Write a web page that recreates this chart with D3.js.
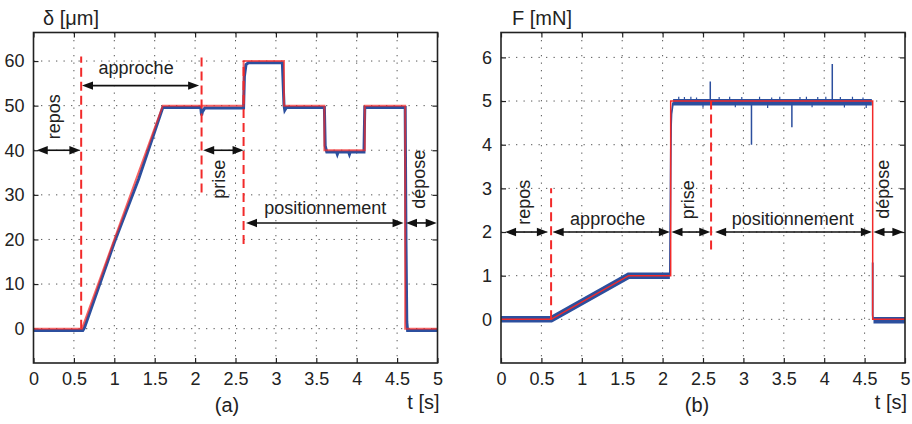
<!DOCTYPE html>
<html>
<head>
<meta charset="utf-8">
<script src="https://cdn.jsdelivr.net/npm/d3@7"></script>
<style>
  html, body { margin: 0; padding: 0; background: #fff; }
  svg { display: block; font-family: "Liberation Sans", Arial, Helvetica, sans-serif; }
</style>
</head>
<body>
<svg id="chart" width="912" height="424"></svg>
<script>
// ---------- DATA ----------
// x axis (shared)
const xTicks = [0, 0.5, 1, 1.5, 2, 2.5, 3, 3.5, 4, 4.5, 5];
const xTickLabels = ["0", "0.5", "1", "1.5", "2", "2.5", "3", "3.5", "4", "4.5", "5"];

// Panel (a): displacement δ [µm]
const yTicksA = [0, 10, 20, 30, 40, 50, 60];
const tRefA = [0, 0.6, 1.6, 2.6, 2.6, 3.1, 3.1, 3.6, 3.6, 4.1, 4.1, 4.6, 4.6, 5];
const dRefA = [0, 0, 50, 50, 60, 60, 50, 50, 40, 40, 50, 50, 0, 0];
const tMesA = [0, 0.61, 0.63, 1.0, 1.3, 1.6, 1.65, 2.07, 2.08, 2.09, 2.12, 2.6, 2.61, 2.63, 2.66, 3.08, 3.1, 3.11, 3.13, 3.6, 3.61, 3.63, 3.75, 3.76, 3.77, 3.9, 3.91, 3.92, 4.09, 4.1, 4.6, 4.61, 4.62, 4.63, 5];
const dMesA = [-0.4, -0.4, 0.2, 19.3, 33.5, 49.6, 49.6, 49.6, 47.8, 48.6, 49.5, 49.5, 56.5, 59.2, 59.6, 59.6, 50.2, 49.0, 49.6, 49.6, 41.0, 39.6, 39.6, 39.1, 39.6, 39.6, 39.1, 39.6, 39.6, 49.6, 49.6, 19.5, 1.5, -0.4, -0.4];
const markersA = [[0.59, 0, 61], [2.08, 30.5, 61.5], [2.6, 19, 60]]; // dashed phase boundaries: t, from, to

// Panel (b): force F [mN]
const yTicksB = [0, 1, 2, 3, 4, 5, 6];
const tRefB = [0, 0.62, 1.58, 2.1, 2.1, 4.6, 4.6, 5];
const fRefB = [0, 0, 1, 1, 5, 5, 0, 0];
const tBandB = [0, 0.62, 1.58, 2.09, NaN, 2.13, 4.59, NaN, 4.61, 5];
const fBandB = [0, 0, 1, 1, NaN, 4.97, 4.97, NaN, -0.02, -0.02];
const tJumpB = [2.09, 2.1, 2.105, 2.11, 2.13];
const fJumpB = [1, 3.45, 4.45, 4.7, 4.97];
const tDropB = [4.6, 4.6, 4.605];
const fDropB = [1.3, 0.1, 0];
const spikeT = [2.59, 3.1, 3.6, 4.1];
const spikeF = [5.45, 4.0, 4.4, 5.85];
// small visible noise excursions on the 5 mN plateau
const noiseT = [2.2, 2.27, 2.35, 2.42, 2.7, 2.83, 2.98, 3.2, 3.35, 3.45, 3.7, 3.78, 3.92, 4.02, 4.2, 4.35, 4.48, 2.5, 2.9, 3.3, 3.85, 4.25, 4.52];
const noiseF = [5.1, 5.09, 5.1, 5.08, 5.09, 5.1, 5.09, 5.1, 5.08, 5.1, 5.09, 5.1, 5.09, 5.1, 5.09, 5.1, 5.08, 4.85, 4.86, 4.84, 4.86, 4.85, 4.84];
const markersB = [[0.62, 0, 3], [2.6, 1.6, 5]];

const phases = ["repos", "approche", "prise", "positionnement", "dépose"];

// ---------- DRAW ----------
const svg = d3.select("#chart");
const BLUE = "#2c4f9e", RED = "#f22a2a", INK = "#222";

function panel(cfg) {
  const x = d3.scaleLinear().domain([0, 5]).range(cfg.xr);
  const y = d3.scaleLinear().domain(cfg.yd).range([363, 32.5]);
  const g = svg.append("g");
  const [x0, x1] = cfg.xr, y0 = 363, y1 = 32.5;

  // grid
  g.selectAll(".gx").data(xTicks.slice(1, -1)).join("line")
    .attr("x1", d => x(d)).attr("x2", d => x(d)).attr("y1", y1).attr("y2", y0)
    .attr("stroke", "#555").attr("stroke-width", 1).attr("stroke-dasharray", "1.3,6.2");
  g.selectAll(".gy").data(cfg.yt).join("line")
    .attr("x1", x0).attr("x2", x1).attr("y1", d => y(d)).attr("y2", d => y(d))
    .attr("stroke", "#555").attr("stroke-width", 1).attr("stroke-dasharray", "1.3,6.2");

  // axes with inner ticks
  const ax = (gen, tr) => g.append("g").attr("transform", tr).call(gen)
    .call(s => s.select(".domain").remove())
    .call(s => s.selectAll("line").attr("stroke", INK).attr("stroke-width", 1.2))
    .call(s => s.selectAll("text").attr("font-size", 18).attr("fill", INK)
      .attr("font-family", "Liberation Sans, Arial, sans-serif"));
  ax(d3.axisBottom(x).tickValues(xTicks).tickFormat((d, i) => xTickLabels[i]).tickSizeInner(-5).tickPadding(9), `translate(0,${y0})`);
  ax(d3.axisTop(x).tickValues(xTicks).tickFormat("").tickSizeInner(-5), `translate(0,${y1})`);
  ax(d3.axisLeft(y).tickValues(cfg.yt).tickFormat(d3.format("d")).tickSizeInner(-5).tickPadding(9), `translate(${x0},0)`);
  ax(d3.axisRight(y).tickValues(cfg.yt).tickFormat("").tickSizeInner(-5), `translate(${x1},0)`);

  const clip = "clip" + cfg.id;
  svg.append("clipPath").attr("id", clip).append("rect")
    .attr("x", x0).attr("y", y1).attr("width", x1 - x0).attr("height", y0 - y1);
  const p = g.append("g").attr("clip-path", `url(#${clip})`);
  cfg.draw(p, x, y);

  // dashed markers
  g.selectAll(".mk").data(cfg.markers).join("line")
    .attr("x1", d => x(d[0])).attr("x2", d => x(d[0]))
    .attr("y1", d => y(d[1])).attr("y2", d => y(d[2]))
    .attr("stroke", RED).attr("stroke-width", 2).attr("stroke-dasharray", "9,5");

  // frame
  g.append("rect").attr("x", x0).attr("y", y1).attr("width", x1 - x0).attr("height", y0 - y1)
    .attr("fill", "none").attr("stroke", INK).attr("stroke-width", 1.6);

  // annotations
  cfg.arrows.forEach(a => arrow(g, x(a[0]), x(a[1]), y(a[2])));
  cfg.labels.forEach(l => {
    const t = g.append("text").text(phases[l[0]]).attr("font-size", 18).attr("fill", INK)
      .attr("text-anchor", "middle");
    if (l[3]) t.attr("transform", `translate(${x(l[1])},${y(l[2])}) rotate(-90)`);
    else t.attr("x", x(l[1])).attr("y", y(l[2]));
  });

  // titles
  g.append("text").attr("x", cfg.titleX).attr("y", 25).attr("font-size", 20).attr("fill", INK).text(cfg.title);
  g.append("text").attr("x", x1 + 2).attr("y", 409).attr("text-anchor", "end").attr("font-size", 20).attr("fill", INK).text("t [s]");
  g.append("text").attr("x", cfg.subX).attr("y", 412).attr("text-anchor", "middle").attr("font-size", 20).attr("fill", INK).text(cfg.sub);
}

function arrow(g, xa, xb, yy) {
  const hl = 11, hw = 4.2;
  g.append("line").attr("x1", xa + hl - 1).attr("x2", xb - hl + 1).attr("y1", yy).attr("y2", yy)
    .attr("stroke", "#111").attr("stroke-width", 1.6);
  g.append("path").attr("d", `M${xa},${yy}L${xa + hl},${yy - hw}L${xa + hl},${yy + hw}Z`).attr("fill", "#111");
  g.append("path").attr("d", `M${xb},${yy}L${xb - hl},${yy - hw}L${xb - hl},${yy + hw}Z`).attr("fill", "#111");
}

// panel (a)
panel({
  id: "a", xr: [33.5, 437.5], yd: [-7.7, 66.4], yt: yTicksA, markers: markersA,
  title: "δ [μm]", titleX: 43, sub: "(a)", subX: 227,
  draw: (p, x, y) => {
    const line = d3.line().x(d => x(d[0])).y(d => y(d[1]));
    p.append("path").attr("d", line(d3.zip(tMesA, dMesA))).attr("fill", "none")
      .attr("stroke", BLUE).attr("stroke-width", 3);
    p.append("path").attr("d", line(d3.zip(tRefA, dRefA))).attr("fill", "none")
      .attr("stroke", RED).attr("stroke-width", 2).attr("stroke-opacity", 0.72);
  },
  arrows: [[0.04, 0.58, 40], [0.6, 2.05, 54.5], [2.1, 2.6, 40], [2.63, 4.58, 23.7], [4.61, 4.99, 23.7]],
  labels: [[0, 0.33, 47.5, true], [1, 1.27, 57, false], [2, 2.37, 33.5, true], [3, 3.61, 25.8, false], [4, 4.84, 33.5, true]]
});

// panel (b)
panel({
  id: "b", xr: [501, 905], yd: [-1, 6.57], yt: yTicksB, markers: markersB,
  title: "F [mN]", titleX: 512, sub: "(b)", subX: 697,
  draw: (p, x, y) => {
    const line = d3.line().defined(d => !isNaN(d[0])).x(d => x(d[0])).y(d => y(d[1]));
    p.append("path").attr("d", line(d3.zip(tBandB, fBandB))).attr("fill", "none")
      .attr("stroke", BLUE).attr("stroke-width", 6.5);
    p.append("path").attr("d", line(d3.zip(tJumpB, fJumpB))).attr("fill", "none")
      .attr("stroke", BLUE).attr("stroke-width", 1.8);
    p.append("path").attr("d", line(d3.zip(tDropB, fDropB))).attr("fill", "none")
      .attr("stroke", BLUE).attr("stroke-width", 1.8);
    p.selectAll(".sp").data(d3.zip(spikeT, spikeF)).join("line")
      .attr("x1", d => x(d[0])).attr("x2", d => x(d[0]))
      .attr("y1", y(4.97)).attr("y2", d => y(d[1]))
      .attr("stroke", BLUE).attr("stroke-width", 1.5);
    p.selectAll(".nz").data(d3.zip(noiseT, noiseF)).join("line")
      .attr("x1", d => x(d[0])).attr("x2", d => x(d[0]))
      .attr("y1", y(4.97)).attr("y2", d => y(d[1]))
      .attr("stroke", BLUE).attr("stroke-width", 1.2);
    p.append("path").attr("d", line(d3.zip(tRefB, fRefB))).attr("fill", "none")
      .attr("stroke", RED).attr("stroke-width", 1.5);
  },
  arrows: [[0.05, 0.58, 2], [0.64, 2.09, 2], [2.11, 2.59, 2], [2.65, 4.59, 2], [4.61, 4.98, 2]],
  labels: [[0, 0.36, 2.68, true], [1, 1.32, 2.17, false], [2, 2.39, 2.74, true], [3, 3.61, 2.17, false], [4, 4.80, 2.98, true]]
});
</script>
</body>
</html>
